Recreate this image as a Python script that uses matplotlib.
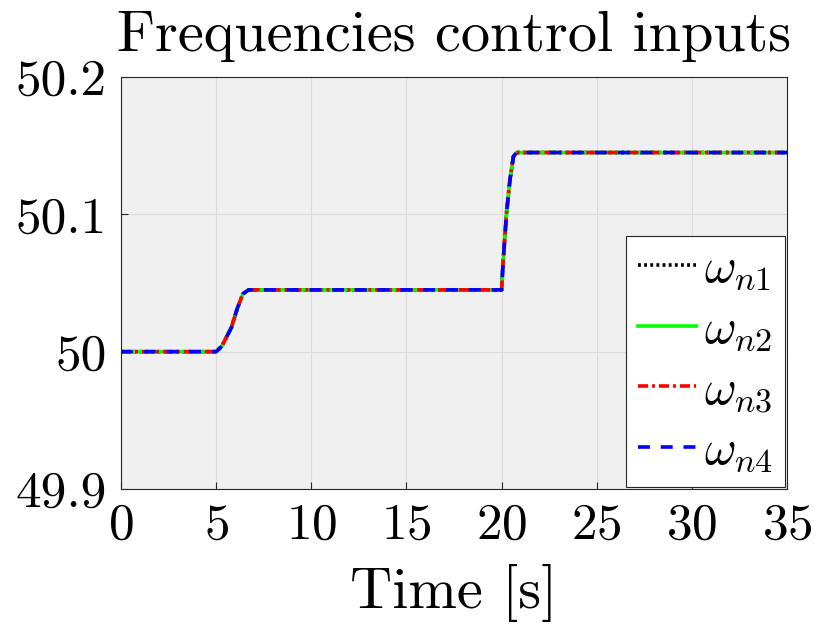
import numpy as np
import matplotlib
matplotlib.use("Agg")
import matplotlib.pyplot as plt

plt.rcParams['font.family'] = ['cmr10', 'DejaVu Serif']
plt.rcParams['mathtext.fontset'] = 'cm'
plt.rcParams['axes.formatter.use_mathtext'] = True

# data (all four inputs overlap)
t = [0, 5.0, 5.3, 5.8, 6.1, 6.4, 6.7, 20.0, 20.08, 20.26, 20.44, 20.62, 20.79, 35]
w = [50.0, 50.0, 50.004, 50.0175, 50.031, 50.042, 50.045, 50.045,
     50.065, 50.101, 50.125, 50.142, 50.145, 50.145]
labels = [r'$\omega_{n1}$', r'$\omega_{n2}$', r'$\omega_{n3}$', r'$\omega_{n4}$']
colors = ['black', '#00ff00', 'red', 'blue']
styles = [(0, (0.8, 0.9)), '-', (0, (2.8, 1.1, 0.8, 1.1)), (0, (3.3, 3.0))]
xticks = [0, 5, 10, 15, 20, 25, 30, 35]
yticks = [49.9, 50.0, 50.1, 50.2]
ytick_labels = ['49.9', '50', '50.1', '50.2']

fig = plt.figure(figsize=(8.15, 6.32), dpi=100)
ax = fig.add_axes([121/815, 1 - 489/632, (787-121)/815, (489-77)/632])
ax.set_facecolor('#f0f0f0')

for lab, c, ls in zip(labels, colors, styles):
    ax.plot(t, w, color=c, linestyle=ls, linewidth=2.6, label=lab)

ax.set_xlim(0, 35)
ax.set_ylim(49.9, 50.2)
ax.set_xticks(xticks)
ax.set_yticks(yticks)
ax.set_yticklabels(ytick_labels)
ax.tick_params(direction='in', labelsize=37, length=5, color='#262626', pad=10)
ax.grid(True, color='#dcdcdc', linewidth=0.8)
for s in ax.spines.values():
    s.set_color('#262626')
    s.set_linewidth(0.8)

ax.set_title('Frequencies control inputs', fontsize=42, pad=19)
ax.set_xlabel('Time [s]', fontsize=42, labelpad=11)

leg = ax.legend(loc='lower right', fontsize=35, fancybox=False, framealpha=1,
                edgecolor='#262626', handlelength=1.2, labelspacing=0.33,
                borderaxespad=0.05, handletextpad=0.15, borderpad=0.25)
leg.get_frame().set_linewidth(0.8)

fig.savefig('out.png', dpi=100)
